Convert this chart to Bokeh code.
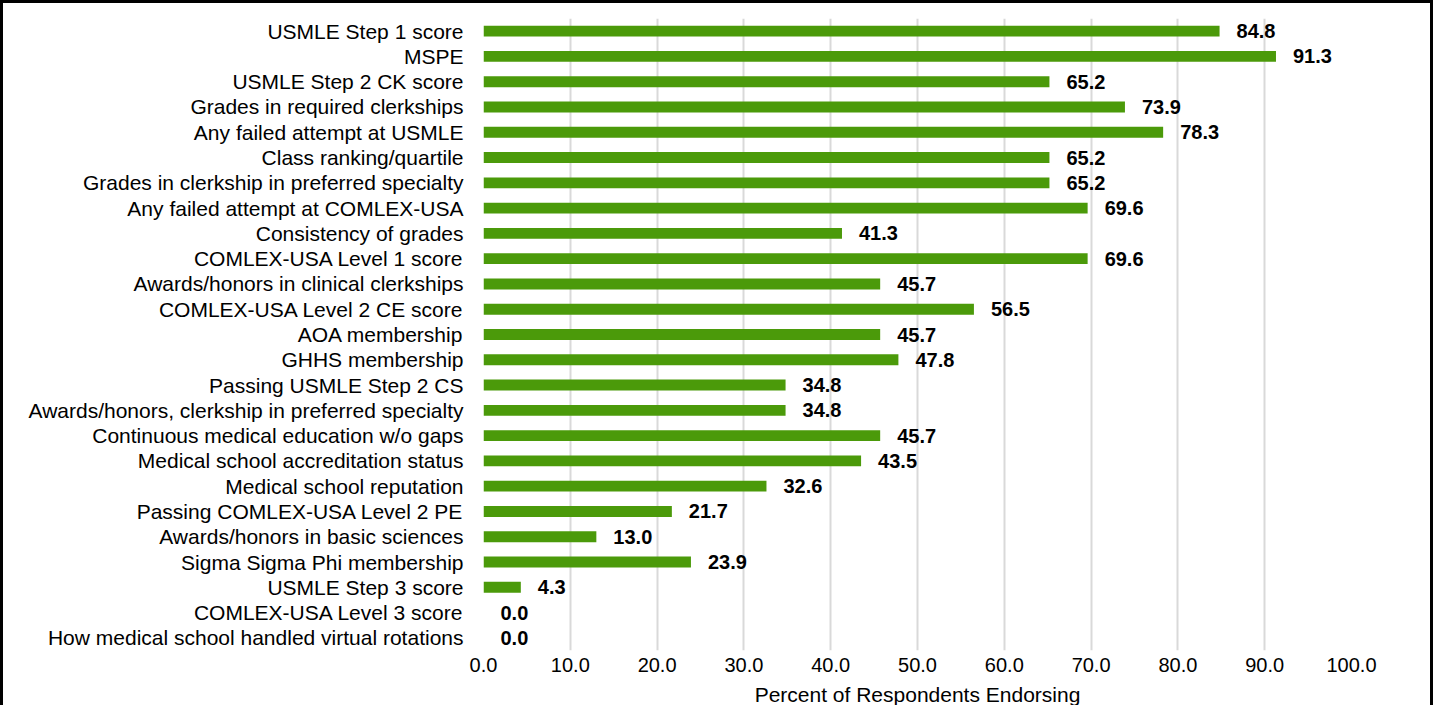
from bokeh.plotting import figure
from bokeh.models import ColumnDataSource, FactorRange, Range1d, FixedTicker, CustomJSTickFormatter
from bokeh.core.properties import value
from bokeh.embed import file_html
from bokeh.resources import INLINE

categories = [
    "USMLE Step 1 score",
    "MSPE",
    "USMLE Step 2 CK score",
    "Grades in required clerkships",
    "Any failed attempt at USMLE",
    "Class ranking/quartile",
    "Grades in clerkship in preferred specialty",
    "Any failed attempt at COMLEX-USA",
    "Consistency of grades",
    "COMLEX-USA Level 1 score",
    "Awards/honors in clinical clerkships",
    "COMLEX-USA Level 2 CE score",
    "AOA membership",
    "GHHS membership",
    "Passing USMLE Step 2 CS",
    "Awards/honors, clerkship in preferred specialty",
    "Continuous medical education w/o gaps",
    "Medical school accreditation status",
    "Medical school reputation",
    "Passing COMLEX-USA Level 2 PE",
    "Awards/honors in basic sciences",
    "Sigma Sigma Phi membership",
    "USMLE Step 3 score",
    "COMLEX-USA Level 3 score",
    "How medical school handled virtual rotations",
]
values = [84.8, 91.3, 65.2, 73.9, 78.3, 65.2, 65.2, 69.6, 41.3, 69.6, 45.7, 56.5,
          45.7, 47.8, 34.8, 34.8, 45.7, 43.5, 32.6, 21.7, 13.0, 23.9, 4.3, 0.0, 0.0]
x_ticks = [0, 10, 20, 30, 40, 50, 60, 70, 80, 90, 100]
x_title = "Percent of Respondents Endorsing"

src = ColumnDataSource(dict(cat=categories, val=values,
                            lab=["%.1f" % v for v in values]))

p = figure(width=1433, height=705, output_backend="svg", toolbar_location=None,
           y_range=FactorRange(factors=list(reversed(categories)), range_padding=0),
           x_range=Range1d(0, 100))
p.min_border_left = 480
p.min_border_right = 85
p.min_border_top = 15
p.min_border_bottom = 57
p.outline_line_color = None
p.background_fill_color = "white"
p.border_fill_color = "white"
p.styles = {"border-top": "3px solid black", "border-left": "3px solid black",
            "border-right": "3px solid black"}

p.hbar(y="cat", right="val", left=0, height=0.43, source=src,
       fill_color="#4b9a0a", line_color=None)
p.text(x="val", y="cat", text="lab", source=src, x_offset=17,
       text_align="left", text_baseline="middle",
       text_font=value("Liberation Sans"), text_font_style="bold",
       text_font_size="20px", text_color="black")

p.xgrid.grid_line_color = "#d9d9d9"
p.xgrid.grid_line_width = 2
p.ygrid.grid_line_color = None

p.xaxis.ticker = FixedTicker(ticks=x_ticks)
p.xaxis.formatter = CustomJSTickFormatter(code="return tick.toFixed(1);")
p.xaxis.axis_line_color = None
p.xaxis.major_tick_line_color = None
p.xaxis.minor_tick_line_color = None
p.xaxis.major_label_text_font = "Liberation Sans"
p.xaxis.major_label_text_font_size = "20px"
p.xaxis.major_label_text_color = "black"
p.xaxis.major_label_standoff = 1
p.xaxis.axis_label = x_title
p.xaxis.axis_label_text_font = "Liberation Sans"
p.xaxis.axis_label_text_font_size = "21px"
p.xaxis.axis_label_text_font_style = "normal"
p.xaxis.axis_label_text_color = "black"
p.xaxis.axis_label_standoff = 8

p.yaxis.axis_line_color = None
p.yaxis.major_tick_line_color = None
p.yaxis.minor_tick_line_color = None
p.yaxis.major_label_text_font = "Liberation Sans"
p.yaxis.major_label_text_font_size = "21px"
p.yaxis.major_label_text_color = "black"
p.yaxis.major_label_standoff = 14

open("out.html", "w").write(file_html(p, INLINE))
